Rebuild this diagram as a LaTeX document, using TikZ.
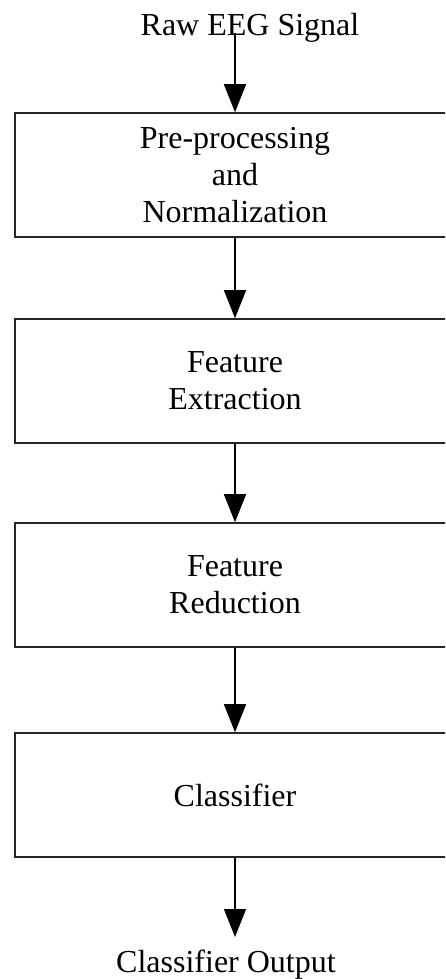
\documentclass[tikz,border=0pt]{standalone}
\usepackage{fontspec}
\setmainfont{Liberation Serif}
\usetikzlibrary{arrows.meta}
\begin{document}
\begin{tikzpicture}[x=1pt,y=-1pt,
  stagebox/.style={draw=black!85,line width=1.6pt,rectangle,minimum width=440pt,minimum height=124pt,inner sep=0pt,align=center,font=\fontsize{32}{37}\selectfont},
  lbl/.style={inner sep=0pt,font=\fontsize{32}{37}\selectfont},
  flow/.style={draw=black,line width=1.4pt,-{Triangle[width=22pt,length=28pt]}}]
\useasboundingbox (0,0) rectangle (445,979);
\clip (0,0) rectangle (445,979);
\node[lbl,anchor=base] (raw) at (250,36) {Raw EEG Signal};
\coordinate (rawend) at (235,33);
\node[stagebox] (b1) at (235,175) {Pre-processing\\and\\Normalization};
\node[stagebox] (b2) at (235,381) {Feature\\Extraction};
\node[stagebox] (b3) at (235,585) {Feature\\Reduction};
\node[stagebox] (b4) at (235,795) {Classifier};
\node[lbl,anchor=base] (out) at (226,972) {Classifier Output};
\coordinate (outtip) at (235,937);
\draw[flow] (rawend) -- (b1.north);
\draw[flow] (b1.south) -- (b2.north);
\draw[flow] (b2.south) -- (b3.north);
\draw[flow] (b3.south) -- (b4.north);
\draw[flow] (b4.south) -- (outtip);
\end{tikzpicture}
\end{document}
